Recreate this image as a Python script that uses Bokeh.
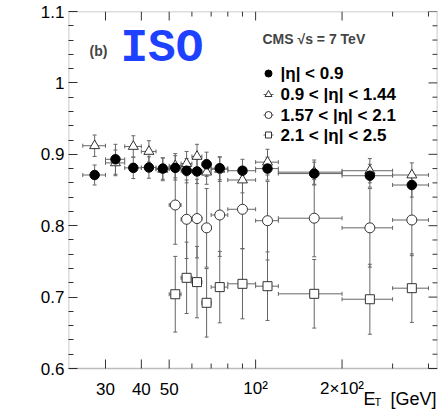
import math
from bokeh.plotting import figure
from bokeh.models import (ColumnDataSource, Range1d, FixedTicker, Label, Whisker,
                          TeeHead, BoxAnnotation)
from bokeh.embed import file_html
from bokeh.resources import INLINE

# ---------------- data ----------------
bin_edges = [25, 30, 35, 40, 45, 50, 55, 60, 65, 70, 80, 100, 120, 200, 300, 400]

eff_eta09 = [0.871, 0.893, 0.881, 0.8815, 0.880, 0.881, 0.877, 0.876, 0.886,
             0.8805, 0.877, 0.880, 0.873, 0.870, 0.857]
err_eta09 = [0.014, 0.021, 0.015, 0.015, 0.015, 0.017, 0.017, 0.017, 0.017,
             0.016, 0.016, 0.016, 0.016, 0.016, 0.017]

eff_eta144 = [0.912, 0.888, 0.911, 0.904, 0.879, 0.884, 0.887, 0.897, 0.875,
              0.879, 0.864, 0.889, 0.875, 0.877, 0.871]
err_eta144 = [0.015, 0.018, 0.015, 0.015, 0.016, 0.017, 0.017, 0.017, 0.017,
              0.017, 0.018, 0.018, 0.017, 0.017, 0.017]

first_fwd_bin = 5   # forward series start at the 50-55 GeV bin
eff_eta21 = [0.829, 0.809, 0.810, 0.797, 0.815, 0.823, 0.807, 0.8105, 0.797, 0.808]
err_eta21 = [0.055, 0.055, 0.055, 0.055, 0.058, 0.055, 0.055, 0.054, 0.055, 0.050]

eff_eta25 = [0.704, 0.727, 0.721, 0.692, 0.714, 0.7186, 0.7153, 0.7046, 0.697, 0.7125]
err_eta25 = [0.053, 0.050, 0.050, 0.048, 0.050, 0.049, 0.048, 0.048, 0.049, 0.048]

legend_labels = ["|η| < 0.9", "0.9 < |η| < 1.44", "1.57 < |η| < 2.1", "2.1 < |η| < 2.5"]

x_label_ticks = [30, 40, 50, 100, 200]
x_minor_ticks = [60, 70, 80, 90, 300, 400]
x_label_text = {30: "30", 40: "40", 50: "50", 100: "10²", 200: "2×10²"}
y_major_ticks = [0.6, 0.7, 0.8, 0.9, 1.0, 1.1]
y_minor_ticks = [round(0.6 + 0.02 * i, 2) for i in range(26) if i % 5]

# ---------------- layout helpers ----------------
W, H = 442, 411
X0, X1 = 22.3, 430.0
Y0, Y1 = 0.6, 1.1
FL, FT, FW, FH = 68, 11, 369, 357      # the data box (0.6 .. 1.1) in canvas pixels
MAJ, MIN = 9, 5


def dx(px):
    return 10 ** (math.log10(X0) + (px - FL) / FW * math.log10(X1 / X0))


def dy(py):
    return Y0 + (FT + FH - py) / FH * (Y1 - Y0)


lo = bin_edges[:-1]
hi = bin_edges[1:]
centres = [(a + b) / 2 for a, b in zip(lo, hi)]

# the drawing area runs to the bottom of the canvas so the x labels below the box show
p = figure(width=W, height=H, x_axis_type="log", x_axis_location=None,
           x_range=Range1d(X0, X1), y_range=Range1d(dy(H), Y1),
           output_backend="svg", toolbar_location=None,
           min_border_left=FL, min_border_right=W - FL - FW,
           min_border_top=FT, min_border_bottom=0)
p.xgrid.visible = False
p.ygrid.visible = False
p.outline_line_color = None
p.background_fill_color = "white"
p.border_fill_color = "white"

FONT = "Liberation Sans"
AX_COL = "#333333"

yt = FixedTicker(ticks=y_major_ticks, minor_ticks=y_minor_ticks)
ya = p.yaxis[0]
ya.ticker = yt
ya.axis_line_color = None
ya.major_tick_in = MAJ
ya.major_tick_out = 0
ya.minor_tick_in = MIN
ya.minor_tick_out = 0
ya.major_tick_line_color = AX_COL
ya.minor_tick_line_color = AX_COL
ya.major_label_text_font = FONT
ya.major_label_text_font_size = "17px"
ya.major_label_text_color = "black"
ya.major_label_overrides = {1.0: "1"}
ya.major_label_standoff = 4

# box around the data region
p.add_layout(BoxAnnotation(left=X0, right=X1, bottom=Y0, top=Y1, fill_color=None,
                           line_color="#222222", line_width=1.6, level="overlay"))

# ROOT-style inward ticks on bottom / top edges, mirrored ticks on the right edge
x_all = x_label_ticks + x_minor_ticks
x_len = [MAJ] * len(x_label_ticks) + [MIN] * len(x_minor_ticks)
p.segment(x0=x_all, y0=[Y0] * len(x_all), x1=x_all,
          y1=[dy(FT + FH - L) for L in x_len], line_color=AX_COL, line_width=1)
p.segment(x0=x_all, y0=[Y1] * len(x_all), x1=x_all,
          y1=[dy(FT + L) for L in x_len], line_color=AX_COL, line_width=1)
right_y = y_major_ticks + y_minor_ticks
right_len = [MAJ] * len(y_major_ticks) + [MIN] * len(y_minor_ticks)
p.segment(x0=[X1] * len(right_y), y0=right_y, x1=[dx(FL + FW - L) for L in right_len],
          y1=right_y, line_color=AX_COL, line_width=1)
for t in x_label_ticks:
    p.add_layout(Label(x=t, y=dy(388), text=x_label_text[t], text_font=FONT,
                       text_font_size="17px", text_align="center",
                       text_baseline="middle", text_color="black"))

ERR = "#666666"
MK_LINE = "#333333"


def add_series(xs, xl, xh, ys, es):
    src = ColumnDataSource(dict(x=xs, y=ys, xl=xl, xh=xh,
                                yl=[y - e for y, e in zip(ys, es)],
                                yh=[y + e for y, e in zip(ys, es)]))
    for base, lower, upper, dim in (("x", "yl", "yh", "height"), ("y", "xl", "xh", "width")):
        p.add_layout(Whisker(source=src, base=base, lower=lower, upper=upper,
                             dimension=dim, line_color=ERR, line_width=1,
                             level="underlay",
                             upper_head=TeeHead(size=4, line_color=ERR, line_width=1),
                             lower_head=TeeHead(size=4, line_color=ERR, line_width=1)))
    return src


fwd = slice(first_fwd_bin, None)
s25 = add_series(centres[fwd], lo[fwd], hi[fwd], eff_eta25, err_eta25)
s21 = add_series(centres[fwd], lo[fwd], hi[fwd], eff_eta21, err_eta21)
s144 = add_series(centres, lo, hi, eff_eta144, err_eta144)
s09 = add_series(centres, lo, hi, eff_eta09, err_eta09)

p.scatter("x", "y", source=s25, marker="square", size=9, fill_color="white", line_color=MK_LINE, line_width=1)
p.scatter("x", "y", source=s21, marker="circle", size=10, fill_color="white", line_color=MK_LINE, line_width=1)
p.scatter("x", "y", source=s144, marker="triangle", size=10, fill_color="white", line_color=MK_LINE, line_width=1)
p.scatter("x", "y", source=s09, marker="circle", size=9.5, fill_color="black", line_color="black", line_width=1)

# ---------------- legend ----------------
leg_rows_px = [73, 94, 114.5, 134.5]
leg_marker_px = 268
leg_text_px = 280
leg_markers = [("circle", "black", 7), ("triangle", "white", 7), ("circle", "white", 7), ("square", "white", 6)]
for (mk, fc, sz), row, txt in zip(leg_markers, leg_rows_px, legend_labels):
    if fc == "white":
        p.segment(x0=[dx(leg_marker_px - 5)], y0=[dy(row)], x1=[dx(leg_marker_px + 5)], y1=[dy(row)],
                  line_color=ERR, line_width=1)
    p.scatter([dx(leg_marker_px)], [dy(row)], marker=mk, size=sz, fill_color=fc,
              line_color="black" if fc == "black" else MK_LINE, line_width=1)
    p.add_layout(Label(x=dx(leg_text_px), y=dy(row), text=txt, text_font=FONT,
                       text_font_style="bold", text_font_size="17px",
                       text_baseline="middle", text_align="left", text_color="black"))

p.add_layout(Label(x=dx(262), y=dy(38), text="CMS √s = 7 TeV", text_font=FONT,
                   text_font_style="bold", text_font_size="14px",
                   text_baseline="middle", text_align="left"))
p.add_layout(Label(x=dx(89), y=dy(50), text="(b)", text_font=FONT,
                   text_font_style="bold", text_font_size="14px",
                   text_baseline="middle", text_align="left"))
p.add_layout(Label(x=dx(120), y=dy(48), text="ISO", text_font="Liberation Mono",
                   text_font_style="bold", text_font_size="46px", text_color="#1e40ff",
                   text_baseline="middle", text_align="left"))

# axis titles
p.add_layout(Label(x=dx(25), y=dy(6), text="Efficiency", text_font=FONT,
                   text_font_size="20px", angle=math.pi / 2,
                   text_baseline="middle", text_align="right", text_color="black"))
p.add_layout(Label(x=dx(363), y=dy(398), text="E", text_font=FONT,
                   text_font_size="18px", text_baseline="alphabetic", text_align="left",
                   text_color="black"))
p.add_layout(Label(x=dx(374), y=dy(401), text="T", text_font=FONT,
                   text_font_size="11px", text_baseline="alphabetic", text_align="left",
                   text_color="black"))
p.add_layout(Label(x=dx(436), y=dy(398), text="[GeV]", text_font=FONT,
                   text_font_size="18px", text_baseline="alphabetic", text_align="right",
                   text_color="black"))

open("out.html", "w").write(file_html(p, INLINE))
